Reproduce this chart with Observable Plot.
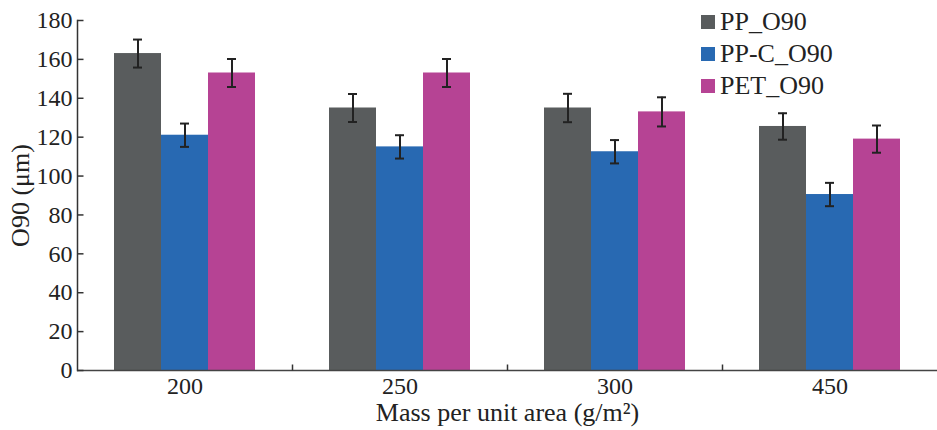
<!DOCTYPE html>
<html><head><meta charset="utf-8">
<script src="https://cdn.jsdelivr.net/npm/d3@7"></script>
<script src="https://cdn.jsdelivr.net/npm/@observablehq/plot@0.6"></script>
<style>
body{margin:0;background:#fff;}
#wrap{position:relative;width:937px;height:430px;font-family:"Liberation Serif",serif;}
.legend{position:absolute;left:701px;top:6px;font-size:26px;color:#222;line-height:1;}
.legend .row{display:flex;align-items:center;height:32px;}
.legend .sw{width:14px;height:14px;margin-right:5px;flex:none;}
</style></head><body><div id="wrap"></div>
<script>
const masses = ["200", "250", "300", "450"];
const series = ["PP_O90", "PP-C_O90", "PET_O90"];
const colors = ["#595c5d", "#2869b2", "#b64394"];
const ppO90 = [163, 135, 135, 125.5];
const ppcO90 = [121, 115, 112.5, 90.5];
const petO90 = [153, 153, 133, 119];
const ppErr = [7.2, 7.2, 7.3, 6.8];
const ppcErr = [6, 6, 6, 6];
const petErr = [7.2, 7.2, 7.5, 7];
const yTicks = [0, 20, 40, 60, 80, 100, 120, 140, 160, 180];

const values = [ppO90, ppcO90, petO90];
const errs = [ppErr, ppcErr, petErr];
const table = [];
masses.forEach((m, i) => series.forEach((s, j) => table.push({mass: m, series: s, value: values[j][i], err: errs[j][i]})));

const vTick = {draw(ctx) { ctx.moveTo(0, 0); ctx.lineTo(0, -6); }};
const hTick = {draw(ctx) { ctx.moveTo(0, 0); ctx.lineTo(6, 0); }};

const chart = Plot.plot({
  width: 937, height: 430,
  marginLeft: 77, marginRight: 0, marginTop: 20, marginBottom: 60,
  style: {fontFamily: "'Liberation Serif', serif", fontSize: "24px", color: "#222", background: "#fff"},
  fx: {domain: masses, padding: 0, label: null},
  x: {domain: series, paddingInner: 0, paddingOuter: 0.74, axis: null},
  y: {domain: [0, 180], ticks: yTicks},
  color: {domain: series, range: colors},
  marks: [
    Plot.barY(table, {fx: "mass", x: "series", y: "value", fill: "series"}),
    Plot.ruleX(table, {fx: "mass", x: "series", y1: d => d.value - d.err, y2: d => d.value + d.err, stroke: "#222", strokeWidth: 2}),
    Plot.tickY(table, {fx: "mass", x: "series", y: d => d.value - d.err, stroke: "#222", strokeWidth: 2, insetLeft: 19, insetRight: 19}),
    Plot.tickY(table, {fx: "mass", x: "series", y: d => d.value + d.err, stroke: "#222", strokeWidth: 2, insetLeft: 19, insetRight: 19}),
    Plot.frame({anchor: "left", facetAnchor: "left", stroke: "#333", strokeWidth: 1.5}),
    Plot.ruleY([0], {stroke: "#444", strokeWidth: 1.5}),
    Plot.dot(masses.slice(1), {fx: d => d, y: () => 0, frameAnchor: "left", symbol: vTick, stroke: "#333", strokeWidth: 1.5, fill: "none"}),
    Plot.dot(yTicks, {fx: () => masses[0], y: d => d, frameAnchor: "left", symbol: hTick, stroke: "#333", strokeWidth: 1.5, fill: "none"}),
    Plot.axisY({ticks: yTicks, tickSize: 0, tickPadding: 5, label: null}),
    Plot.axisY({ticks: [], tickSize: 0, label: "O90 (μm)", labelAnchor: "center", labelOffset: 67, labelArrow: "none", fontSize: 26}),
    Plot.axisFx({anchor: "bottom", tickSize: 0, tickPadding: 6, label: null}),
    Plot.axisFx({anchor: "bottom", ticks: [], tickSize: 0, label: "Mass per unit area (g/m²)", labelAnchor: "center", labelOffset: 50, labelArrow: "none", fontSize: 26})
  ]
});
const wrap = document.getElementById("wrap");
wrap.appendChild(chart);
const legend = document.createElement("div");
legend.className = "legend";
series.forEach((s, j) => {
  const row = document.createElement("div");
  row.className = "row";
  const sw = document.createElement("span");
  sw.className = "sw";
  sw.style.background = colors[j];
  const t = document.createElement("span");
  t.textContent = s;
  row.appendChild(sw); row.appendChild(t);
  legend.appendChild(row);
});
wrap.appendChild(legend);
</script></body></html>
